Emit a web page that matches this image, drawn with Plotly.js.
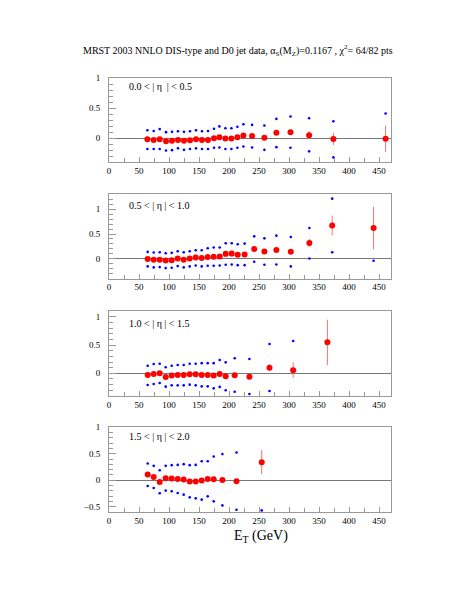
<!DOCTYPE html>
<html>
<head>
<meta charset="utf-8">
<script src="https://cdn.plot.ly/plotly-3.0.1.min.js"></script>
<style>
  html, body { margin: 0; padding: 0; background: #fff; }
  #chart { width: 469px; height: 607px; }
</style>
</head>
<body>
<div id="chart"></div>
<script>
// (data - theory)/theory for D0 inclusive jets, four eta bins
const etaLabels = ["0.0 < | η  | < 0.5", "0.5 < | η | < 1.0", "1.0 < | η | < 1.5", "1.5 < | η | < 2.0"];

const et1 = [64, 74.5, 84.5, 95, 105, 115, 125, 135, 145, 155, 165, 175, 184, 194, 204, 214, 224, 238.5, 259, 279, 302.5, 333.5, 374, 461];
const val1 = [-0.02, -0.03, -0.02, -0.05, -0.045, -0.03, -0.045, -0.035, -0.02, -0.03, -0.03, 0.0, 0.015, -0.005, -0.005, 0.015, 0.045, 0.035, 0.005, 0.09, 0.10, 0.05, -0.015, -0.01];
const err1 = [0.01, 0.01, 0.01, 0.01, 0.01, 0.01, 0.01, 0.01, 0.01, 0.01, 0.01, 0.01, 0.01, 0.01, 0.01, 0.01, 0.01, 0.015, 0.02, 0.03, 0.04, 0.065, 0.1, 0.22];
const up1 = [0.13, 0.12, 0.15, 0.10, 0.105, 0.115, 0.105, 0.115, 0.13, 0.115, 0.12, 0.155, 0.195, 0.165, 0.165, 0.19, 0.23, 0.22, 0.21, 0.32, 0.36, 0.33, 0.28, 0.41];
const lo1 = [-0.18, -0.18, -0.18, -0.205, -0.2, -0.17, -0.195, -0.18, -0.17, -0.18, -0.18, -0.16, -0.155, -0.18, -0.18, -0.16, -0.14, -0.155, -0.195, -0.15, -0.16, -0.22, -0.32, null];

const et2 = [64.5, 74.5, 84.5, 94.5, 104.5, 114.5, 124.5, 134.5, 144.5, 154.5, 164.5, 174.5, 184.5, 194.5, 204.5, 214.5, 226, 242, 259, 279, 303, 334, 372, 441];
const val2 = [-0.005, -0.02, -0.02, -0.035, -0.03, 0.005, -0.02, 0.005, 0.025, 0.015, 0.035, 0.04, 0.045, 0.10, 0.105, 0.08, 0.085, 0.20, 0.15, 0.18, 0.145, 0.32, 0.67, 0.62];
const err2 = [0.01, 0.01, 0.01, 0.01, 0.01, 0.01, 0.01, 0.01, 0.01, 0.01, 0.01, 0.01, 0.01, 0.01, 0.01, 0.01, 0.01, 0.02, 0.02, 0.03, 0.03, 0.08, 0.2, 0.43];
const up2 = [0.14, 0.127, 0.133, 0.113, 0.12, 0.153, 0.133, 0.153, 0.173, 0.173, 0.213, 0.227, 0.227, 0.313, 0.313, 0.293, 0.307, 0.453, 0.413, 0.467, 0.44, 0.62, 1.213, null];
const lo2 = [-0.153, -0.173, -0.167, -0.187, -0.18, -0.147, -0.173, -0.153, -0.133, -0.153, -0.14, -0.14, -0.133, -0.12, -0.113, -0.127, -0.127, -0.06, -0.12, -0.113, -0.153, 0.007, 0.133, -0.04];

const et3 = [64.5, 74.5, 84.5, 94.5, 104.5, 114.5, 124.5, 134.5, 144.5, 154.5, 164.5, 174.5, 184.5, 194.5, 209.5, 234, 267.5, 307, 364];
const val3 = [-0.03, -0.012, 0.0, -0.065, -0.04, -0.03, -0.03, -0.018, -0.018, -0.03, -0.03, -0.04, -0.012, -0.053, -0.035, -0.06, 0.10, 0.053, 0.547];
const err3 = [0.01, 0.01, 0.01, 0.01, 0.01, 0.01, 0.01, 0.01, 0.01, 0.01, 0.01, 0.01, 0.01, 0.012, 0.015, 0.02, 0.06, 0.14, 0.40];
const up3 = [0.135, 0.165, 0.17, 0.106, 0.135, 0.147, 0.147, 0.17, 0.17, 0.18, 0.18, 0.18, 0.235, 0.194, 0.265, 0.253, 0.518, 0.57, null];
const lo3 = [-0.206, -0.188, -0.17, -0.235, -0.212, -0.212, -0.212, -0.2, -0.212, -0.23, -0.23, -0.265, -0.24, -0.3, -0.324, -0.365, -0.312, null, null];

const et4 = [64.5, 74.5, 84.5, 94.5, 104.5, 114.5, 124.5, 134.5, 144.5, 154.5, 164.5, 174.5, 189, 212.5, 254.5];
const val4 = [0.108, 0.063, -0.032, 0.038, 0.032, 0.025, 0.013, -0.025, -0.025, -0.006, 0.025, 0.019, 0.006, -0.019, 0.342];
const err4 = [0.01, 0.01, 0.01, 0.01, 0.01, 0.01, 0.01, 0.01, 0.01, 0.01, 0.01, 0.01, 0.015, 0.035, 0.23];
const up4 = [0.316, 0.272, 0.19, 0.272, 0.285, 0.29, 0.304, 0.285, 0.29, 0.36, 0.36, 0.45, 0.494, 0.525, null];
const lo4 = [-0.108, -0.146, -0.247, -0.196, -0.209, -0.24, -0.272, -0.323, -0.342, -0.367, -0.304, -0.399, -0.475, -0.557, -0.57];

const panels = [
    { et: et1, val: val1, err: err1, up: up1, lo: lo1 },
    { et: et2, val: val2, err: err2, up: up2, lo: lo2 },
    { et: et3, val: val3, err: err3, up: up3, lo: lo3 },
    { et: et4, val: val4, err: err4, up: up4, lo: lo4 }
];

const yRanges = [[-0.4, 1.0001], [-0.4, 1.3], [-0.4, 1.1], [-0.6, 1.0001]];
const yDomains = [[0.806, 1], [0.5376, 0.732], [0.2673, 0.4631], [0, 0.1951]];
const labelY = [0.894, 0.862, 0.855, 0.897];

function drawChart() {
    const traces = [];
    const layout = {
        width: 469,
        height: 607,
        margin: { l: 109, r: 78, t: 78, b: 95 },
        paper_bgcolor: "#fff",
        plot_bgcolor: "#fff",
        showlegend: false,
        font: { family: "Liberation Serif, Times New Roman, serif", size: 9, color: "#000" },
        title: {
            text: "MRST 2003 NNLO DIS-type and D0 jet data, α<sub>S</sub>(M<sub>Z</sub>)=0.1167 , χ<sup>2</sup>= 64/82 pts",
            font: { size: 10 },
            xref: "container", x: 0.177, xanchor: "left",
            yref: "container", y: 0.9176, yanchor: "middle"
        },
        annotations: []
    };

    panels.forEach(function(p, i) {
        const n = i === 0 ? "" : String(i + 1);
        const xa = "x" + n, ya = "y" + n;

        traces.push({
            x: p.et, y: p.up, xaxis: xa, yaxis: ya,
            mode: "markers", marker: { color: "#0000ff", size: 2.6 }
        });
        traces.push({
            x: p.et, y: p.lo, xaxis: xa, yaxis: ya,
            mode: "markers", marker: { color: "#0000ff", size: 2.6 }
        });
        traces.push({
            x: p.et, y: p.val, xaxis: xa, yaxis: ya,
            mode: "markers", marker: { color: "#ff0000", size: 6 },
            error_y: { type: "data", array: p.err, visible: true, color: "#ff7070", thickness: 1, width: 0 }
        });

        layout["xaxis" + n] = {
            domain: [0, 1], anchor: ya, range: [0, 470],
            tick0: 0, dtick: 50, ticks: "inside", ticklen: 5, tickcolor: "#999",
            minor: { dtick: 25, ticks: "inside", ticklen: 4, tickcolor: "#999" },
            showline: true, linecolor: "#999", linewidth: 1, mirror: true,
            showgrid: false, zeroline: false, tickfont: { size: 9 }
        };
        layout["yaxis" + n] = {
            domain: yDomains[i], anchor: xa, range: yRanges[i],
            tick0: 0, dtick: 0.5, ticks: "inside", ticklen: 7, tickcolor: "#999",
            minor: { dtick: 0.1, ticks: "inside", ticklen: 4, tickcolor: "#999" },
            showline: true, linecolor: "#999", linewidth: 1, mirror: true,
            showgrid: false, zeroline: true, zerolinecolor: "#777", zerolinewidth: 1,
            ticklabelstandoff: 6, tickfont: { size: 9 }
        };

        layout.annotations.push({
            text: etaLabels[i], showarrow: false,
            xref: xa + " domain", yref: ya + " domain",
            x: 0.064, y: labelY[i], xanchor: "left", yanchor: "middle",
            font: { size: 10 }
        });
    });

    layout.annotations.push({
        text: "E<sub>T</sub> (GeV)", showarrow: false,
        xref: "paper", yref: "paper", x: 0.54, y: -0.056,
        xanchor: "center", yanchor: "middle", font: { size: 14 }
    });

    Plotly.newPlot("chart", traces, layout, { staticPlot: true });
}

window.onload = drawChart;
</script>
</body>
</html>
